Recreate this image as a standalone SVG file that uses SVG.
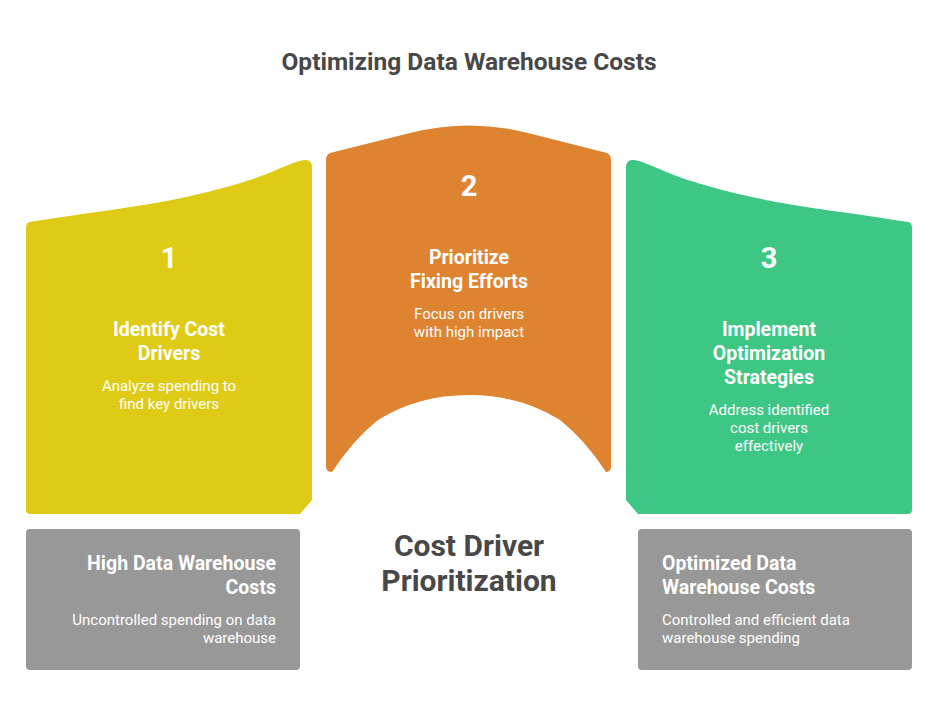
<svg xmlns="http://www.w3.org/2000/svg" width="938" height="720" viewBox="0 0 938 720">
<style>
text{font-family:Roboto,"Liberation Sans",sans-serif;text-anchor:middle;font-weight:bold}
.w{fill:#fff}.n{font-size:29px}.h{font-size:19.5px}.s{font-size:15px;font-weight:normal}
</style>
<rect width="938" height="720" fill="#fff"/>
<text x="469" y="70" font-size="24.5" fill="#484848">Optimizing Data Warehouse Costs</text>
<g id="n1">
<path d="M30 222 C130 206 170 205 250 180 C280 170 295 160 306 160 Q312 160 312 168 L312 500 L300 514 L30 514 Q26 514 26 510 L26 228 Q26 222 30 222Z" fill="#dfcb16"/>
<text class="w n" x="169" y="268">1</text>
<text class="w h" x="169" y="336">Identify Cost</text><text class="w h" x="169" y="360">Drivers</text>
<text class="w s" x="169" y="391">Analyze spending to</text><text class="w s" x="169" y="409">find key drivers</text>
</g>
<g id="n2">
<path d="M330 153 L410 133 Q469 118 528 133 L607 153 Q611 155 611 160 L611 466 Q611 472 606 472 Q585 440 560 420 Q520 395 469 395 Q418 395 378 420 Q353 440 332 472 Q326 472 326 466 L326 160 Q326 155 330 153Z" fill="#de8330"/>
<text class="w n" x="469" y="196">2</text>
<text class="w h" x="469" y="264">Prioritize</text><text class="w h" x="469" y="288">Fixing Efforts</text>
<text class="w s" x="469" y="319">Focus on drivers</text><text class="w s" x="469" y="337">with high impact</text>
</g>
<g id="n3">
<path d="M908 222 C808 206 768 205 688 180 C658 170 643 160 632 160 Q626 160 626 168 L626 500 L638 514 L908 514 Q912 514 912 510 L912 228 Q912 222 908 222Z" fill="#3dc684"/>
<text class="w n" x="769" y="268">3</text>
<text class="w h" x="769" y="336">Implement</text><text class="w h" x="769" y="360">Optimization</text><text class="w h" x="769" y="384">Strategies</text>
<text class="w s" x="769" y="415">Address identified</text><text class="w s" x="769" y="433">cost drivers</text><text class="w s" x="769" y="451">effectively</text>
</g>
<g id="n4">
<rect x="26" y="529" width="274" height="141" rx="4" fill="#989898"/>
<text class="w h" x="276" y="570" style="text-anchor:end">High Data Warehouse</text>
<text class="w h" x="276" y="594" style="text-anchor:end">Costs</text>
<text class="w s" x="276" y="625" style="text-anchor:end">Uncontrolled spending on data</text>
<text class="w s" x="276" y="643" style="text-anchor:end">warehouse</text>
</g>
<g id="n5">
<rect x="638" y="529" width="274" height="141" rx="4" fill="#989898"/>
<text class="w h" x="662" y="570" style="text-anchor:start">Optimized Data</text>
<text class="w h" x="662" y="594" style="text-anchor:start">Warehouse Costs</text>
<text class="w s" x="662" y="625" style="text-anchor:start">Controlled and efficient data</text>
<text class="w s" x="662" y="643" style="text-anchor:start">warehouse spending</text>
</g>
<g id="center">
<text x="469" y="556" font-size="30" fill="#484848">Cost Driver</text>
<text x="469" y="591" font-size="30" fill="#484848">Prioritization</text>
</g>
<g id="connectors"/>
</svg>
